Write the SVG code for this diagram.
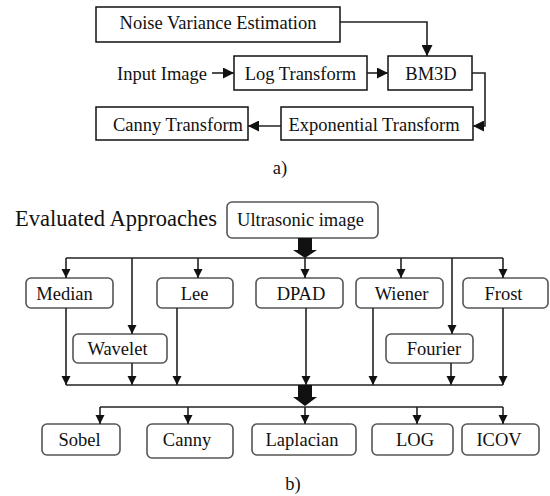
<svg xmlns="http://www.w3.org/2000/svg" width="550" height="496" viewBox="0 0 550 496">
<defs>
<style>
text{font-family:"Liberation Serif","Times New Roman",serif;fill:#111;text-anchor:middle}
.ta{font-size:18.5px}
.tb{font-size:18.5px}
.ba{fill:#fff;stroke:#111;stroke-width:1.5}
.bb{fill:#fff;stroke:#555;stroke-width:1.6}
.c{fill:none;stroke:#222;stroke-width:1.6}
.thick{fill:#111}
</style>
<marker id="ah" viewBox="0 0 10 10" refX="10" refY="5" markerWidth="13" markerHeight="11" markerUnits="userSpaceOnUse" orient="auto">
<path d="M0,0 L10,5 L0,10 z" fill="#111"/>
</marker>
<marker id="ahb" viewBox="0 0 10 10" refX="10" refY="5" markerWidth="9" markerHeight="10" markerUnits="userSpaceOnUse" orient="auto">
<path d="M0,0 L10,5 L0,10 z" fill="#111"/>
</marker>
</defs>
<g id="part-a">
<g id="noise"><rect class="ba" x="96" y="7" width="244" height="35"/><text class="ta" x="218" y="29">Noise Variance Estimation</text></g>
<g id="input"><text class="ta" x="162" y="80">Input Image</text></g>
<g id="log"><rect class="ba" x="234" y="56" width="133" height="34"/><text class="ta" x="300.5" y="80">Log Transform</text></g>
<g id="bm3d"><rect class="ba" x="388" y="56" width="84" height="34"/><text class="ta" x="431" y="80">BM3D</text></g>
<g id="exp"><rect class="ba" x="281" y="107" width="192" height="33"/><text class="ta" x="374" y="130.5">Exponential Transform</text></g>
<g id="canny-a"><rect class="ba" x="96" y="107" width="152" height="33"/><text class="ta" x="178" y="130.5">Canny Transform</text></g>
<text class="ta" x="280" y="174">a)</text>
</g>
<g id="part-b">
<text x="116" y="226" style="font-size:22.5px">Evaluated Approaches</text>
<g id="ultra"><rect class="bb" x="227" y="202" width="151" height="36" rx="5"/><text class="tb" x="300.5" y="226">Ultrasonic image</text></g>
<g id="median"><rect class="bb" x="26" y="278" width="87" height="30" rx="5"/><text class="tb" x="64.5" y="300">Median</text></g>
<g id="lee"><rect class="bb" x="157" y="278" width="76" height="30" rx="5"/><text class="tb" x="194.5" y="300">Lee</text></g>
<g id="dpad"><rect class="bb" x="256" y="278" width="87" height="30" rx="5"/><text class="tb" x="301" y="300">DPAD</text></g>
<g id="wiener"><rect class="bb" x="356" y="278" width="87" height="30" rx="5"/><text class="tb" x="401.5" y="300">Wiener</text></g>
<g id="frost"><rect class="bb" x="463" y="278" width="85" height="30" rx="5"/><text class="tb" x="503.5" y="300">Frost</text></g>
<g id="wavelet"><rect class="bb" x="73" y="334" width="94" height="29" rx="5"/><text class="tb" x="117.5" y="355">Wavelet</text></g>
<g id="fourier"><rect class="bb" x="386" y="334" width="87" height="29" rx="5"/><text class="tb" x="434" y="355">Fourier</text></g>
<g id="sobel"><rect class="bb" x="42" y="424" width="78" height="31" rx="5"/><text class="tb" x="79.5" y="446">Sobel</text></g>
<g id="canny-b"><rect class="bb" x="147" y="424" width="86" height="34" rx="5"/><text class="tb" x="187" y="446">Canny</text></g>
<g id="laplacian"><rect class="bb" x="252" y="424" width="104" height="31" rx="5"/><text class="tb" x="302" y="446">Laplacian</text></g>
<g id="logb"><rect class="bb" x="372" y="424" width="81" height="31" rx="5"/><text class="tb" x="415" y="446">LOG</text></g>
<g id="icov"><rect class="bb" x="462" y="424" width="77" height="31" rx="5"/><text class="tb" x="499" y="446">ICOV</text></g>
<text class="tb" x="293" y="490">b)</text>
</g>
<g id="connectors">
<path class="c" d="M340,22 H427 V56" marker-end="url(#ah)"/>
<path class="c" d="M212,73 H234" marker-end="url(#ah)"/>
<path class="c" d="M367,73 H388" marker-end="url(#ah)"/>
<path class="c" d="M472,73 H485 V126 H473" marker-end="url(#ah)"/>
<path class="c" d="M281,126 H248" marker-end="url(#ah)"/>
<path class="c" d="M66,258 H503"/>
<path class="c" d="M66,258 V278" marker-end="url(#ahb)"/>
<path class="c" d="M132,258 V334" marker-end="url(#ahb)"/>
<path class="c" d="M198,258 V278" marker-end="url(#ahb)"/>
<path class="c" d="M305,258 V278" marker-end="url(#ahb)"/>
<path class="c" d="M401,258 V278" marker-end="url(#ahb)"/>
<path class="c" d="M452,258 V334" marker-end="url(#ahb)"/>
<path class="c" d="M503,258 V278" marker-end="url(#ahb)"/>
<path class="c" d="M66,308 V385" marker-end="url(#ahb)"/>
<path class="c" d="M132,363 V385" marker-end="url(#ahb)"/>
<path class="c" d="M177,308 V385" marker-end="url(#ahb)"/>
<path class="c" d="M306,308 V385" marker-end="url(#ahb)"/>
<path class="c" d="M373,308 V385" marker-end="url(#ahb)"/>
<path class="c" d="M451,363 V385" marker-end="url(#ahb)"/>
<path class="c" d="M503,308 V385" marker-end="url(#ahb)"/>
<path class="c" d="M66,385 H503"/>
<path class="c" d="M100,407 H503"/>
<path class="c" d="M100,407 V424" marker-end="url(#ahb)"/>
<path class="c" d="M188,407 V424" marker-end="url(#ahb)"/>
<path class="c" d="M305,407 V424" marker-end="url(#ahb)"/>
<path class="c" d="M417,407 V424" marker-end="url(#ahb)"/>
<path class="c" d="M503,407 V424" marker-end="url(#ahb)"/>
<polygon class="thick" points="298,238 312,238 312,250 317,250 305,258 293,250 298,250"/>
<polygon class="thick" points="298,385 312,385 312,397 317,397 305,406 293,397 298,397"/>
</g>
</svg>
